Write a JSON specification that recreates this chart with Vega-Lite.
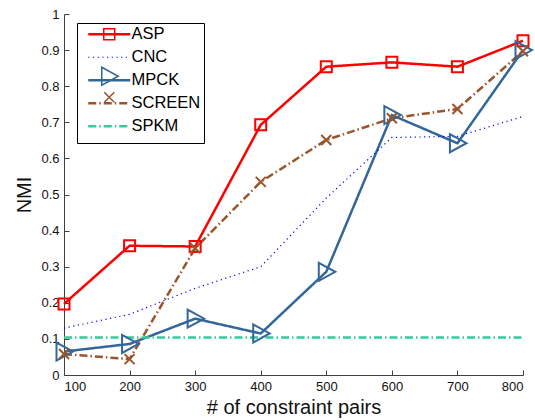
{
  "$schema": "https://vega.github.io/schema/vega-lite/v6.json",
  "width": 459,
  "height": 361,
  "autosize": {"type": "none"},
  "padding": {"left": 64, "top": 14, "right": 12, "bottom": 45},
  "config": {
    "view": {"stroke": null},
    "font": "Liberation Sans",
    "axis": {
      "grid": false,
      "domainColor": "#404040",
      "tickColor": "#404040",
      "tickSize": -5,
      "labelFontSize": 13,
      "labelColor": "#111",
      "labelOverlap": false,
      "titleFontSize": 20,
      "titleFontWeight": "normal",
      "titleColor": "#111",
      "labelFont": "Liberation Sans",
      "titleFont": "Liberation Sans"
    }
  },
  "data": {
    "values": [
      {"series": "ASP", "x": 100, "y": 0.197},
      {"series": "ASP", "x": 200, "y": 0.358},
      {"series": "ASP", "x": 300, "y": 0.356},
      {"series": "ASP", "x": 400, "y": 0.693},
      {"series": "ASP", "x": 500, "y": 0.854},
      {"series": "ASP", "x": 600, "y": 0.866},
      {"series": "ASP", "x": 700, "y": 0.854},
      {"series": "ASP", "x": 800, "y": 0.926},
      {"series": "CNC", "x": 100, "y": 0.13},
      {"series": "CNC", "x": 200, "y": 0.168},
      {"series": "CNC", "x": 300, "y": 0.24},
      {"series": "CNC", "x": 400, "y": 0.30},
      {"series": "CNC", "x": 500, "y": 0.49},
      {"series": "CNC", "x": 600, "y": 0.658},
      {"series": "CNC", "x": 700, "y": 0.661},
      {"series": "CNC", "x": 800, "y": 0.716},
      {"series": "MPCK", "x": 100, "y": 0.065},
      {"series": "MPCK", "x": 200, "y": 0.086},
      {"series": "MPCK", "x": 300, "y": 0.156},
      {"series": "MPCK", "x": 400, "y": 0.115},
      {"series": "MPCK", "x": 500, "y": 0.286},
      {"series": "MPCK", "x": 600, "y": 0.72},
      {"series": "MPCK", "x": 700, "y": 0.642},
      {"series": "MPCK", "x": 800, "y": 0.9},
      {"series": "SCREEN", "x": 100, "y": 0.058},
      {"series": "SCREEN", "x": 200, "y": 0.044},
      {"series": "SCREEN", "x": 300, "y": 0.351},
      {"series": "SCREEN", "x": 400, "y": 0.535},
      {"series": "SCREEN", "x": 500, "y": 0.651},
      {"series": "SCREEN", "x": 600, "y": 0.711},
      {"series": "SCREEN", "x": 700, "y": 0.737},
      {"series": "SCREEN", "x": 800, "y": 0.897},
      {"series": "SPKM", "x": 100, "y": 0.104},
      {"series": "SPKM", "x": 200, "y": 0.104},
      {"series": "SPKM", "x": 300, "y": 0.104},
      {"series": "SPKM", "x": 400, "y": 0.104},
      {"series": "SPKM", "x": 500, "y": 0.104},
      {"series": "SPKM", "x": 600, "y": 0.104},
      {"series": "SPKM", "x": 700, "y": 0.104},
      {"series": "SPKM", "x": 800, "y": 0.104}
    ]
  },
  "encoding": {
    "x": {
      "field": "x", "type": "quantitative",
      "scale": {"domain": [100, 800], "nice": false, "zero": false},
      "axis": {"values": [100, 200, 300, 400, 500, 600, 700, 800], "format": "d", "title": "# of constraint pairs", "labelPadding": 10, "titlePadding": 4, "labelOverlap": false}
    },
    "y": {
      "field": "y", "type": "quantitative",
      "scale": {"domain": [0, 1], "nice": false},
      "axis": {"values": [0, 0.1, 0.2, 0.3, 0.4, 0.5, 0.6, 0.7, 0.8, 0.9, 1], "format": "~g", "title": "NMI", "labelPadding": 10, "titlePadding": 6, "labelOverlap": false}
    }
  },
  "layer": [
    {
      "transform": [{"filter": "datum.series !== 'CNC'"}],
      "mark": {"type": "line", "strokeCap": "butt", "strokeJoin": "miter", "strokeWidth": 2.5},
      "encoding": {
        "color": {
          "field": "series", "type": "nominal",
          "scale": {"domain": ["ASP", "CNC", "MPCK", "SCREEN", "SPKM"], "range": ["#ff0000", "#0000ff", "#336699", "#99552b", "#33cc99"]},
          "legend": {
            "orient": "none", "legendX": 13, "legendY": 9, "title": null,
            "symbolType": "M-4.2,0H4.2M0,-1.75M0,1.75", "symbolSize": 100, "symbolStrokeWidth": 2.5,
            "labelFontSize": 16.5, "labelColor": "#000", "labelFont": "Liberation Sans",
            "labelExpr": "datum.label + ' '",
            "padding": 3, "symbolOffset": 21, "labelOffset": 14, "rowPadding": -5, "gridAlign": "all",
            "strokeColor": "#000", "fillColor": "#fff", "zindex": 0,
            "encode": {"symbols": {"update": {"strokeWidth": {"signal": "datum.value === 'CNC' ? 1.2 : 2.5"}}}}
          }
        },
        "strokeDash": {
          "field": "series", "type": "nominal",
          "scale": {"domain": ["ASP", "CNC", "MPCK", "SCREEN", "SPKM"], "range": [[1, 0], [1.2, 3.5], [1, 0], [8, 3, 1.5, 3], [8, 3, 1.5, 3]]}
        }
      }
    },
    {
      "transform": [{"filter": "datum.series === 'CNC'"}],
      "mark": {"type": "line", "strokeCap": "butt", "strokeWidth": 1.2},
      "encoding": {
        "color": {"field": "series", "type": "nominal"},
        "strokeDash": {"field": "series", "type": "nominal"}
      }
    },
    {
      "mark": {"type": "point", "filled": false, "size": 100, "strokeWidth": 2, "opacity": 1},
      "encoding": {
        "stroke": {
          "field": "series", "type": "nominal",
          "scale": {"range": ["#ff0000", "#0000ff", "#336699", "#99552b", "#33cc99"]}
        },
        "shape": {
          "field": "series", "type": "nominal",
          "scale": {"range": [
            "M-1.1,-1.1H1.1V1.1H-1.1ZM0,-1.8M0,1.8",
            "M0,-1.8M0,1.8",
            "M-1.5,-1.8L1.8,0L-1.5,1.8Z",
            "M-1,-1L1,1M1,-1L-1,1M0,-1.8M0,1.8",
            "M0,-1.8M0,1.8"
          ]},
          "legend": {
            "orient": "none", "legendX": 13, "legendY": 9, "title": null,
            "symbolSize": 100, "labelFontSize": 16.5, "labelExpr": "''",
            "padding": 3, "symbolOffset": 21, "labelOffset": 14, "rowPadding": -5, "gridAlign": "all", "zindex": 1,
            "encode": {"symbols": {"update": {"fill": {"value": "transparent"}, "strokeWidth": {"value": 2}, "opacity": {"value": 1}}}}
          }
        }
      }
    }
  ]
}
